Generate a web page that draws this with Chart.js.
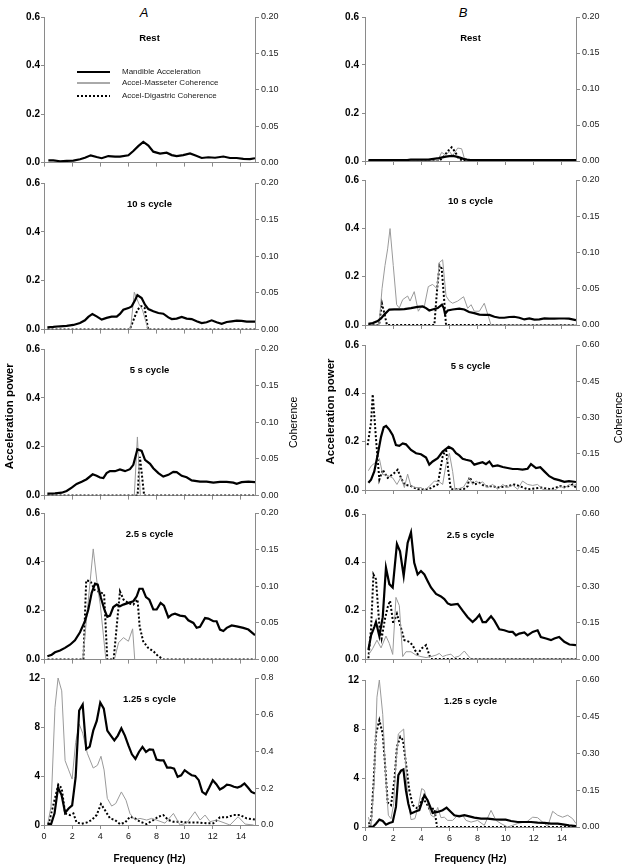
<!DOCTYPE html>
<html><head><meta charset="utf-8">
<script src="https://cdn.jsdelivr.net/npm/chart.js@4.4.1/dist/chart.umd.min.js"></script>
<style>
html,body{margin:0;padding:0;background:#fff;}
body{width:623px;height:868px;position:relative;overflow:hidden;font-family:"Liberation Sans",Arial,sans-serif;}
canvas{position:absolute;}
.colhead{position:absolute;width:40px;text-align:center;font:italic 13px "Liberation Sans",Arial,sans-serif;line-height:17px;color:#000;}
</style></head><body>
<div class="colhead" style="left:124px;top:4px;">A</div>
<div class="colhead" style="left:443px;top:4px;">B</div>
<script>
// ---------- labels ----------
const columns = ['A', 'B'];
const conditions = ['Rest', '10 s cycle', '5 s cycle', '2.5 s cycle', '1.25 s cycle'];
const seriesNames = ['Mandible Acceleration', 'Accel-Masseter Coherence', 'Accel-Digastric Coherence'];
const xTitle = 'Frequency (Hz)';
const yTitle = 'Acceleration power';
const y2Title = 'Coherence';

// ---------- tick values ----------
const freqTicks = [0, 2, 4, 6, 8, 10, 12, 14];
const powerTicksSmall = [0, 0.2, 0.4, 0.6];
const powerTicksBig = [0, 4, 8, 12];
const cohTicks020 = [0, 0.05, 0.10, 0.15, 0.20];
const cohTicks060 = [0, 0.15, 0.30, 0.45, 0.60];
const cohTicks080 = [0, 0.2, 0.4, 0.6, 0.8];

// ---------- data: [frequency (Hz), value] ----------
// Column A
const a1Acc = [[0.31,0.0095],[0.66,0.0095],[1.14,0.0055],[1.61,0.007],[2.09,0.008],[2.56,0.014],[2.91,0.02],[3.32,0.03],[3.74,0.023],[4.1,0.018],[4.57,0.027],[5.05,0.025],[5.4,0.025],[6.0,0.03],[6.35,0.048],[6.7,0.068],[7.06,0.085],[7.42,0.07],[7.77,0.045],[8.25,0.037],[8.72,0.041],[9.08,0.031],[9.43,0.027],[9.9,0.031],[10.38,0.038],[10.73,0.03],[11.21,0.019],[11.68,0.022],[12.16,0.02],[12.75,0.025],[13.22,0.019],[13.7,0.019],[14.17,0.015],[14.64,0.014],[15,0.018]];
const a1Mas = [];
const a1Dig = [];

const a2Acc = [[0.24,0.0095],[0.66,0.011],[1.14,0.0136],[1.61,0.015],[2.09,0.019],[2.56,0.027],[2.91,0.038],[3.15,0.052],[3.44,0.064],[3.74,0.054],[4.1,0.041],[4.45,0.048],[4.81,0.053],[5.17,0.053],[5.4,0.064],[5.64,0.081],[6.0,0.088],[6.23,0.095],[6.47,0.12],[6.64,0.141],[6.94,0.129],[7.18,0.102],[7.42,0.084],[7.77,0.075],[8.13,0.068],[8.48,0.065],[8.84,0.05],[9.08,0.043],[9.43,0.045],[9.79,0.052],[10.14,0.045],[10.5,0.043],[10.85,0.034],[11.21,0.027],[11.56,0.03],[11.92,0.038],[12.27,0.03],[12.63,0.024],[12.99,0.031],[13.34,0.034],[13.7,0.037],[14.05,0.036],[14.41,0.033],[15,0.033]];
const a2Mas = [[0.25,0],[6.15,0],[6.42,0.051],[6.75,0.035],[7.0,0.027],[7.4,0],[15,0]];
const a2Dig = [[0.25,0],[6.1,0],[6.4,0.015],[6.65,0.027],[6.9,0.032],[7.15,0.03],[7.4,0],[15,0]];

const a3Acc = [[0.24,0.008],[0.78,0.009],[1.26,0.012],[1.61,0.019],[1.97,0.033],[2.32,0.048],[2.68,0.057],[3.03,0.067],[3.46,0.087],[3.74,0.081],[3.98,0.074],[4.22,0.072],[4.45,0.092],[4.69,0.1],[5.05,0.1],[5.4,0.107],[5.76,0.1],[6.11,0.108],[6.35,0.126],[6.64,0.19],[6.94,0.183],[7.18,0.146],[7.54,0.13],[7.77,0.112],[8.13,0.092],[8.48,0.078],[8.84,0.085],[9.19,0.097],[9.43,0.096],[9.79,0.081],[10.14,0.075],[10.5,0.062],[11.09,0.057],[11.56,0.057],[12.04,0.053],[12.51,0.056],[12.99,0.056],[13.46,0.053],[13.7,0.048],[14.05,0.055],[14.53,0.057],[15,0.055]];
const a3Mas = [[0.25,0],[6.42,0],[6.64,0.08],[6.85,0],[15,0]];
const a3Dig = [[0.25,0],[6.65,0],[6.82,0.053],[7.12,0],[15,0]];

const a4Acc = [[0.24,0.0136],[0.55,0.02],[0.78,0.03],[1.14,0.037],[1.49,0.048],[1.85,0.061],[2.2,0.079],[2.56,0.112],[2.91,0.157],[3.15,0.205],[3.39,0.273],[3.63,0.311],[3.82,0.307],[4.05,0.252],[4.29,0.205],[4.5,0.175],[4.69,0.18],[4.93,0.215],[5.17,0.225],[5.4,0.218],[5.64,0.225],[6.0,0.232],[6.35,0.239],[6.59,0.259],[6.78,0.29],[7.01,0.29],[7.25,0.256],[7.49,0.245],[7.77,0.205],[8.01,0.205],[8.29,0.232],[8.53,0.221],[8.84,0.173],[9.08,0.184],[9.31,0.188],[9.67,0.18],[10.02,0.177],[10.26,0.161],[10.62,0.15],[10.85,0.13],[11.09,0.134],[11.45,0.17],[11.68,0.168],[12.04,0.157],[12.27,0.157],[12.51,0.123],[12.75,0.117],[12.99,0.13],[13.34,0.14],[13.7,0.136],[14.17,0.13],[14.53,0.123],[15,0.1]];
const a4Mas = [[0.25,0],[2.75,0],[3.5,0.151],[3.8,0.1],[4.0,0.075],[4.4,0],[5.0,0],[5.3,0.023],[5.65,0.03],[6.0,0.025],[6.3,0.042],[6.45,0],[15,0]];
const a4Dig = [[0.25,0],[2.8,0],[3.0,0.108],[3.3,0.107],[3.6,0.095],[4.1,0.091],[4.27,0.09],[4.5,0],[4.95,0],[5.4,0.093],[5.65,0.082],[6.0,0.077],[6.35,0.075],[6.65,0.082],[6.8,0.045],[7.05,0.025],[7.4,0.016],[7.8,0.011],[8.1,0.005],[8.5,0],[15,0]];

const a5Acc = [[0.25,0.13],[0.5,0.05],[0.75,0.95],[1.0,3.06],[1.25,2.44],[1.5,1.0],[1.75,1.35],[2.0,1.6],[2.25,3.9],[2.5,9.35],[2.75,9.84],[3.0,6.2],[3.25,6.4],[3.5,7.7],[3.75,8.5],[4.0,10.0],[4.25,9.5],[4.5,7.7],[4.75,7.3],[5.0,6.9],[5.25,7.3],[5.5,7.9],[5.75,7.3],[6.0,6.5],[6.25,5.77],[6.5,5.4],[6.75,5.96],[7.0,6.37],[7.25,5.96],[7.5,6.18],[7.75,6.15],[8.0,5.34],[8.25,5.28],[8.5,5.28],[8.75,4.69],[9.0,4.69],[9.25,4.6],[9.5,3.93],[9.75,4.06],[10.0,4.47],[10.25,4.25],[10.5,4.06],[10.75,4.0],[11.0,3.66],[11.25,2.7],[11.5,2.5],[11.75,3.06],[12.0,3.66],[12.25,3.33],[12.5,2.9],[12.75,3.06],[13.0,3.3],[13.25,3.25],[13.5,3.12],[13.75,3.06],[14.0,3.17],[14.25,3.39],[14.5,3.06],[14.75,2.7],[15.0,2.57]];
const a5Mas = [[0.25,0],[0.5,0.1],[0.78,0.64],[1.0,0.8],[1.26,0.73],[1.5,0.35],[1.75,0.3],[2.0,0.25],[2.25,0.45],[2.5,0.55],[2.75,0.5],[3.08,0.39],[3.5,0.31],[3.8,0.325],[4.05,0.374],[4.27,0.3],[4.5,0.145],[4.81,0.103],[5.1,0.117],[5.5,0.18],[5.83,0.135],[6.11,0.063],[6.47,0.027],[6.82,0.036],[7.3,0.027],[7.65,0.036],[8.0,0.027],[8.6,0.01],[9.2,0.063],[9.67,0],[10.14,0.01],[10.73,0.072],[11.1,0.027],[11.45,0.054],[11.8,0.018],[12.27,0.027],[12.87,0.01],[13.22,0],[13.8,0.045],[14.3,0.005],[14.9,0]];
const a5Dig = [[0.31,0],[1.02,0.22],[1.26,0.2],[1.5,0.063],[1.85,0.054],[2.09,0.063],[2.32,0.013],[2.68,0.007],[3.03,0.013],[3.39,0.027],[3.74,0.054],[4.05,0.114],[4.34,0.08],[4.69,0.036],[5.05,0.027],[5.4,0.005],[5.76,0.013],[6.11,0.045],[6.47,0.036],[6.82,0.018],[7.3,0.005],[7.77,0.027],[8.13,0.045],[8.48,0.054],[8.84,0.027],[9.19,0.018],[9.67,0.018],[10.14,0.013],[10.62,0.013],[11.09,0.013],[11.56,0.009],[12.04,0.009],[12.51,0.042],[12.99,0.042],[13.46,0.054],[13.94,0.054],[14.41,0.036],[15,0.03]];

// Column B
const b1Acc = [[0.25,0.004],[3.0,0.004],[3.25,0.006],[4.5,0.006],[4.75,0.008],[5.0,0.01],[5.25,0.012],[5.5,0.015],[5.75,0.018],[6.0,0.02],[6.25,0.021],[6.5,0.018],[6.75,0.014],[7.0,0.009],[7.25,0.006],[7.5,0.004],[15,0.004]];
const b1Mas = [[0.25,0.001],[2.0,0.001],[2.25,0.002],[2.5,0.001],[5.15,0],[5.45,0.012],[5.75,0.008],[6.0,0.0136],[6.23,0.007],[6.59,0.018],[6.87,0.017],[7.06,0.004],[7.3,0],[15,0]];
const b1Dig = [[0.25,0],[5.28,0],[5.64,0.007],[5.88,0.0136],[6.16,0.019],[6.4,0.013],[6.64,0.0045],[6.94,0],[15,0]];

const b2Acc = [[0.24,0.005],[0.55,0.008],[0.9,0.016],[1.14,0.027],[1.37,0.043],[1.73,0.064],[2.08,0.065],[2.44,0.065],[2.8,0.066],[3.27,0.07],[3.74,0.075],[4.1,0.077],[4.34,0.07],[4.57,0.06],[4.8,0.064],[5.17,0.07],[5.47,0.084],[5.6,0.07],[5.69,0.046],[5.88,0.06],[6.23,0.064],[6.7,0.068],[7.06,0.064],[7.4,0.054],[7.77,0.049],[8.13,0.043],[8.48,0.042],[8.84,0.042],[9.2,0.034],[9.55,0.03],[9.9,0.03],[10.26,0.033],[10.6,0.034],[10.97,0.03],[11.33,0.023],[11.68,0.027],[12.04,0.022],[12.4,0.023],[12.75,0.027],[13.1,0.026],[13.46,0.026],[13.8,0.027],[14.17,0.027],[14.5,0.026],[15,0.02]];
const b2Mas = [[0.25,0],[1.0,0],[1.21,0.05],[1.42,0.082],[1.61,0.105],[1.78,0.133],[2.01,0.082],[2.25,0.028],[2.44,0.0235],[2.68,0.035],[3.03,0.04],[3.2,0.033],[3.5,0.046],[3.79,0.019],[3.98,0.025],[4.22,0.026],[4.5,0.053],[4.81,0.056],[5.12,0.05],[5.28,0.086],[5.52,0.09],[5.76,0.04],[6.0,0.033],[6.23,0.03],[6.59,0.033],[7.01,0.039],[7.3,0.023],[7.54,0.028],[7.77,0.019],[8.13,0.019],[8.48,0.03],[8.72,0.015],[8.96,0],[15,0]];
const b2Dig = [[0.25,0],[1.0,0],[1.2,0.03],[1.4,0.014],[1.56,0],[4.93,0],[5.15,0.055],[5.3,0.082],[5.45,0.078],[5.6,0.042],[5.76,0],[15,0]];

const b3Acc = [[0.24,0.03],[0.43,0.043],[0.66,0.077],[0.9,0.145],[1.14,0.22],[1.33,0.26],[1.5,0.265],[1.73,0.25],[1.97,0.227],[2.2,0.186],[2.44,0.183],[2.68,0.193],[2.91,0.189],[3.27,0.166],[3.63,0.152],[3.98,0.148],[4.34,0.134],[4.57,0.105],[4.81,0.118],[5.17,0.132],[5.52,0.159],[5.95,0.179],[6.23,0.17],[6.47,0.152],[6.7,0.143],[6.94,0.129],[7.18,0.125],[7.54,0.12],[7.77,0.105],[8.0,0.109],[8.36,0.115],[8.6,0.107],[8.84,0.118],[9.08,0.098],[9.43,0.102],[9.79,0.095],[10.14,0.091],[10.5,0.087],[10.85,0.087],[11.2,0.084],[11.56,0.088],[11.8,0.107],[12.16,0.091],[12.46,0.094],[12.75,0.077],[13.1,0.057],[13.46,0.046],[13.8,0.041],[14.17,0.034],[14.5,0.037],[15,0.033]];
const b3Mas = [[0.24,0.08],[0.45,0.1],[0.66,0.11],[0.85,0.12],[1.02,0.13],[1.26,0.064],[1.61,0.06],[1.97,0.05],[2.27,0.023],[2.56,0.053],[2.8,0.01],[3.03,0.066],[3.27,0.016],[3.63,0.01],[3.98,0.01],[4.22,0],[4.57,0.015],[4.93,0.037],[5.28,0.034],[5.52,0.023],[5.76,0.105],[6.0,0.152],[6.23,0.077],[6.4,0],[7.0,0.012],[7.42,0.05],[7.65,0.023],[7.9,0.037],[8.13,0.027],[8.36,0.034],[8.72,0.01],[9.08,0.023],[9.43,0.003],[9.79,0.023],[10.14,0.01],[10.5,0.02],[10.85,0.003],[11.2,0.037],[11.56,0.023],[11.92,0.019],[12.27,0.023],[12.63,0.003],[13.0,0],[13.5,0],[13.9,0.016],[14.17,0.007],[14.53,0.023],[14.76,0.016],[15,0.023]];
const b3Dig = [[0.19,0.186],[0.43,0.28],[0.55,0.396],[0.78,0.213],[1.02,0.043],[1.26,0.084],[1.61,0.05],[2.08,0.07],[2.32,0.084],[2.56,0.05],[2.8,0.023],[3.27,0.016],[3.74,0.003],[4.5,0.003],[5.17,0.023],[5.52,0.138],[5.76,0.172],[5.92,0.08],[6.1,0.003],[7.0,0.003],[7.3,0.016],[7.42,0.053],[7.77,0.023],[8.13,0.03],[8.5,0.016],[9.1,0.016],[9.43,0.01],[10.14,0.016],[10.6,0.023],[11.0,0.016],[11.56,0.003],[12.5,0.01],[13.2,0.003],[13.9,0.016],[14.3,0.012],[14.76,0.023],[15,0.01]];

const b4Acc = [[0.24,0.037],[0.43,0.098],[0.66,0.132],[0.78,0.153],[1.02,0.095],[1.26,0.173],[1.49,0.378],[1.73,0.31],[1.97,0.296],[2.27,0.476],[2.49,0.446],[2.75,0.344],[3.03,0.48],[3.27,0.524],[3.5,0.398],[3.74,0.35],[3.98,0.364],[4.22,0.35],[4.45,0.323],[4.69,0.296],[5.05,0.269],[5.4,0.259],[5.64,0.248],[5.88,0.23],[6.11,0.224],[6.59,0.228],[6.94,0.2],[7.3,0.173],[7.65,0.153],[7.89,0.166],[8.13,0.183],[8.36,0.153],[8.6,0.153],[8.96,0.177],[9.19,0.16],[9.55,0.123],[9.9,0.119],[10.26,0.112],[10.5,0.112],[10.73,0.098],[10.97,0.105],[11.33,0.11],[11.56,0.098],[11.92,0.112],[12.27,0.119],[12.5,0.091],[12.87,0.085],[13.22,0.078],[13.46,0.085],[13.8,0.091],[14.17,0.071],[14.53,0.06],[15,0.057]];
const b4Mas = [[0.24,0.016],[0.55,0.044],[0.85,0.078],[1.14,0.046],[1.49,0.095],[1.73,0.064],[1.97,0.019],[2.2,0.255],[2.44,0.221],[2.68,0.01],[2.91,0.03],[3.27,0.03],[3.63,0.016],[3.98,0.01],[4.34,0.006],[4.69,0.01],[5.05,0.016],[5.28,0.023],[5.52,0.01],[5.8,0.016],[6.11,0.02],[6.35,0.006],[6.7,0.012],[7.06,0.033],[7.3,0.016],[7.54,0],[15,0]];
const b4Dig = [[0.24,0.003],[0.43,0.125],[0.6,0.35],[0.78,0.33],[1.02,0.139],[1.18,0.085],[1.42,0.166],[1.61,0.214],[1.78,0.241],[2.01,0.146],[2.27,0.187],[2.44,0.153],[2.8,0.078],[3.15,0.071],[3.39,0.057],[3.55,0.037],[3.74,0.02],[4.03,0.044],[4.34,0.057],[4.57,0.016],[4.69,0],[15,0]];

const b5Acc = [[0.24,0.05],[0.55,0.0],[0.78,0.27],[1.02,0.6],[1.26,0.49],[1.49,0.19],[1.73,0.33],[1.97,0.41],[2.2,1.64],[2.37,4.23],[2.56,4.6],[2.73,4.7],[2.91,3.0],[3.08,1.9],[3.27,1.1],[3.63,1.28],[3.86,1.37],[4.22,2.6],[4.45,2.19],[4.81,1.15],[5.17,1.23],[5.52,1.37],[5.8,1.58],[6.11,1.23],[6.35,0.96],[6.7,0.87],[7.06,0.96],[7.42,0.87],[7.77,0.77],[8.25,0.68],[8.72,0.68],[9.19,0.63],[9.67,0.6],[10.0,0.6],[10.38,0.49],[10.85,0.41],[11.33,0.41],[11.8,0.41],[12.27,0.36],[12.75,0.33],[13.22,0.27],[13.7,0.27],[14.17,0.19],[14.5,0.14],[15,0.08]];
const b5Mas = [[0.24,0.04],[0.43,0.003],[0.66,0.19],[0.85,0.53],[1.02,0.6],[1.26,0.46],[1.49,0.19],[1.66,0.048],[1.85,0.034],[2.04,0.095],[2.2,0.26],[2.37,0.38],[2.56,0.39],[2.75,0.4],[3.03,0.12],[3.27,0.03],[3.55,0.034],[3.79,0.085],[4.03,0.157],[4.22,0.15],[4.45,0.1],[4.69,0.048],[4.93,0.04],[5.17,0.08],[5.4,0.038],[5.64,0.04],[5.88,0.027],[6.23,0.027],[6.59,0.048],[6.94,0.048],[7.18,0.027],[7.54,0.02],[8.0,0.027],[8.48,0.007],[8.96,0.068],[9.31,0.027],[9.67,0.014],[10.14,0],[10.5,0.007],[10.85,0.014],[11.33,0.02],[11.56,0.024],[11.92,0.04],[12.27,0.038],[12.63,0.02],[12.99,0.003],[13.34,0.064],[13.7,0.048],[14.05,0.04],[14.41,0.048],[14.76,0.034],[15,0.014]];
const b5Dig = [[0.24,0.014],[0.43,0.02],[0.62,0.19],[0.78,0.38],[1.02,0.436],[1.26,0.38],[1.42,0.26],[1.61,0.1],[1.85,0.089],[2.09,0.19],[2.27,0.327],[2.51,0.368],[2.7,0.355],[2.91,0.26],[3.15,0.15],[3.39,0.089],[3.74,0.075],[4.1,0.116],[4.34,0.1],[4.57,0.075],[4.93,0.075],[5.12,0],[15,0]];

// ---------- layout (positions kept separate from data) ----------
const colGeom = {
  A: {x: 0,   w: 311, left: 44,  right: 255, y2Off: 39},
  B: {x: 311, w: 312, left: 365, right: 576, y2Off: 43}
};
const PAD_T = 9, SMALL_BOTTOM = 7, PAGE_H = 868;
const panels = [
  {col:'A', cond:0, top:17,  bottom:163, yT:powerTicksSmall, yDec:1, y2T:cohTicks020, y2Dec:2, data:[a1Acc,a1Mas,a1Dig], legend:true},
  {col:'A', cond:1, top:183, bottom:330, yT:powerTicksSmall, yDec:1, y2T:cohTicks020, y2Dec:2, data:[a2Acc,a2Mas,a2Dig]},
  {col:'A', cond:2, top:349, bottom:496, yT:powerTicksSmall, yDec:1, y2T:cohTicks020, y2Dec:2, data:[a3Acc,a3Mas,a3Dig], axisTitles:true},
  {col:'A', cond:3, top:513, bottom:660, yT:powerTicksSmall, yDec:1, y2T:cohTicks020, y2Dec:2, data:[a4Acc,a4Mas,a4Dig]},
  {col:'A', cond:4, top:678, bottom:825, yT:powerTicksBig, yDec:0, y2T:cohTicks080, y2Dec:1, data:[a5Acc,a5Mas,a5Dig], xAxis:true},
  {col:'B', cond:0, top:17,  bottom:163, yT:powerTicksSmall, yDec:1, y2T:cohTicks020, y2Dec:2, data:[b1Acc,b1Mas,b1Dig]},
  {col:'B', cond:1, top:180, bottom:327, yT:powerTicksSmall, yDec:1, y2T:cohTicks020, y2Dec:2, data:[b2Acc,b2Mas,b2Dig]},
  {col:'B', cond:2, top:345, bottom:492, yT:powerTicksSmall, yDec:1, y2T:cohTicks060, y2Dec:2, data:[b3Acc,b3Mas,b3Dig], axisTitles:true},
  {col:'B', cond:3, top:514, bottom:661, yT:powerTicksSmall, yDec:1, y2T:cohTicks060, y2Dec:2, data:[b4Acc,b4Mas,b4Dig]},
  {col:'B', cond:4, top:680, bottom:827, yT:powerTicksBig, yDec:0, y2T:cohTicks060, y2Dec:2, data:[b5Acc,b5Mas,b5Dig], xAxis:true}
];

const FONT = '"Liberation Sans", Arial, Helvetica, sans-serif';
Chart.defaults.font.family = FONT;
Chart.defaults.animation = false;
const AXIS_COLOR = '#8a8a8a';
const GRAY_LINE = '#9a9a9a';

const seriesStyle = [
  {borderColor:'#000', borderWidth:2.2, borderDash:[], yAxisID:'y', legendColor:'#000'},
  {borderColor:GRAY_LINE, borderWidth:1, borderDash:[], yAxisID:'y2', legendColor:'#555'},
  {borderColor:'#000', borderWidth:2, borderDash:[2,2], yAxisID:'y2', legendColor:'#000'}
];

const annotPlugin = {
  id: 'annot',
  afterDraw(chart, args, o) {
    const ctx = chart.ctx, a = chart.chartArea;
    ctx.save();
    ctx.fillStyle = '#000';
    ctx.textAlign = 'center';
    ctx.textBaseline = 'middle';
    if (o.title) {
      ctx.font = 'bold 9.5px ' + FONT;
      ctx.fillText(o.title, (a.left + a.right) / 2, a.top + 21.5);
    }
    if (o.axisTitles) {
      const mid = (a.top + a.bottom) / 2;
      ctx.save();
      ctx.translate(a.left - 34, mid - 6);
      ctx.rotate(-Math.PI / 2);
      ctx.font = 'bold 11.5px ' + FONT;
      ctx.fillText(yTitle, 0, 0);
      ctx.restore();
      ctx.save();
      ctx.translate(a.right + o.y2Off, mid);
      ctx.rotate(-Math.PI / 2);
      ctx.font = '10.5px ' + FONT;
      ctx.fillText(y2Title, 0, 0);
      ctx.restore();
    }
    if (o.legend) {
      const rows = [55, 66, 79];
      chart.data.datasets.forEach((ds, i) => {
        const y = a.top + rows[i];
        ctx.save();
        ctx.beginPath();
        ctx.strokeStyle = ds.legendColor || ds.borderColor;
        ctx.lineWidth = ds.borderWidth;
        ctx.setLineDash(ds.borderDash || []);
        ctx.moveTo(a.left + 33, y);
        ctx.lineTo(a.left + 66, y);
        ctx.stroke();
        ctx.restore();
        ctx.font = '8px ' + FONT;
        ctx.fillStyle = '#222';
        ctx.textAlign = 'left';
        ctx.fillText(ds.label, a.left + 78, y);
      });
    }
    ctx.restore();
  }
};

panels.forEach(p => {
  const g = colGeom[p.col];
  const bottomSpace = p.xAxis ? PAGE_H - p.bottom : SMALL_BOTTOM;
  const cTop = p.top - PAD_T;
  const cH = (p.bottom - p.top) + PAD_T + bottomSpace;
  const cv = document.createElement('canvas');
  cv.width = g.w; cv.height = cH;
  cv.style.left = g.x + 'px'; cv.style.top = cTop + 'px';
  cv.style.width = g.w + 'px'; cv.style.height = cH + 'px';
  document.body.appendChild(cv);

  const leftW = g.left - g.x;
  const rightW = g.x + g.w - g.right;

  const datasets = p.data.map((series, i) => Object.assign({
    label: seriesNames[i],
    data: series.map(d => ({x: d[0], y: d[1]})),
    pointRadius: 0,
    tension: 0,
    fill: false,
    borderCapStyle: 'butt',
    borderJoinStyle: 'miter'
  }, seriesStyle[i]));

  new Chart(cv, {
    type: 'line',
    data: {datasets},
    plugins: [annotPlugin],
    options: {
      responsive: false,
      devicePixelRatio: 1,
      animation: false,
      events: [],
      layout: {padding: {top: PAD_T, left: 0, right: 0, bottom: 0}},
      plugins: {
        legend: {display: false},
        tooltip: {enabled: false},
        title: {display: false},
        annot: {title: conditions[p.cond], axisTitles: !!p.axisTitles, legend: !!p.legend, y2Off: g.y2Off}
      },
      scales: {
        x: {
          type: 'linear', min: 0, max: 15,
          afterBuildTicks: s => { s.ticks = freqTicks.map(v => ({value: v})); },
          afterFit: s => { s.height = bottomSpace; },
          grid: {display: true, drawOnChartArea: false, drawTicks: true, tickLength: 4, color: AXIS_COLOR},
          border: {display: true, color: AXIS_COLOR, width: 1},
          ticks: {display: !!p.xAxis, autoSkip: false, maxRotation: 0, padding: 2, color: '#111', font: {size: 9}},
          title: {display: !!p.xAxis, text: xTitle, color: '#000', font: {size: 10, weight: 'bold'}, padding: {top: 0, bottom: 3}}
        },
        y: {
          type: 'linear', position: 'left', min: 0, max: p.yT[p.yT.length - 1],
          afterBuildTicks: s => { s.ticks = p.yT.map(v => ({value: v})); },
          afterFit: s => { s.width = leftW; },
          grid: {display: true, drawOnChartArea: false, drawTicks: true, tickLength: 3, color: AXIS_COLOR},
          border: {display: true, color: AXIS_COLOR, width: 1},
          ticks: {padding: p.col === 'A' ? 1 : 3, color: '#000', font: {size: 10, weight: 'bold'}, callback: v => Number(v).toFixed(p.yDec)}
        },
        y2: {
          type: 'linear', position: 'right', min: 0, max: p.y2T[p.y2T.length - 1],
          afterBuildTicks: s => { s.ticks = p.y2T.map(v => ({value: v})); },
          afterFit: s => { s.width = rightW; },
          grid: {display: true, drawOnChartArea: false, drawTicks: true, tickLength: 4, color: AXIS_COLOR},
          border: {display: true, color: AXIS_COLOR, width: 1},
          ticks: {padding: 2, color: '#222', font: {size: 9}, callback: v => Number(v).toFixed(p.y2Dec)}
        }
      }
    }
  });
});
</script>
</body></html>
